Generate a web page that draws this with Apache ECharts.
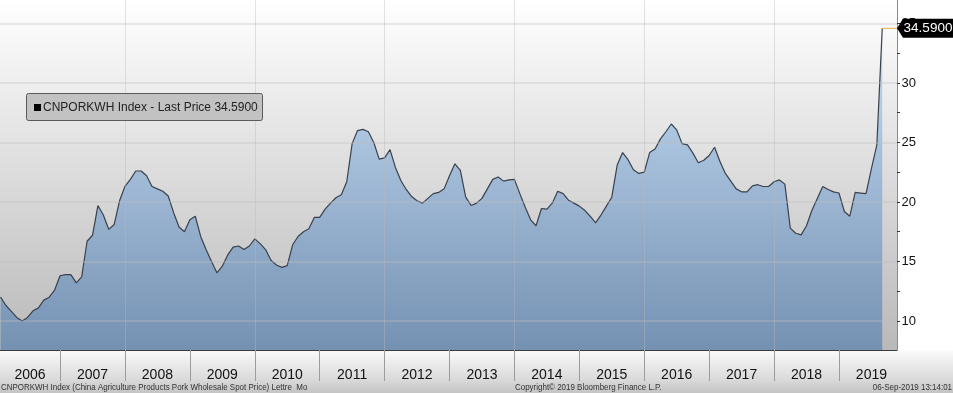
<!DOCTYPE html>
<html><head><meta charset="utf-8">
<script src="https://cdn.jsdelivr.net/npm/echarts@6/dist/echarts.min.js"></script>
<style>html,body{margin:0;padding:0;background:#fff}#c{width:953px;height:393px}</style>
</head><body><div id="c"></div>
<script>
// Monthly (month-end) CNPORKWH prices, Jan 2006 .. Aug 2019
const startYear = 2006;
const p2006 = [12.0, 11.3, 10.8, 10.3, 10.0, 10.3, 10.85, 11.1, 11.75, 12.0, 12.6, 13.8];
const p2007 = [13.9, 13.9, 13.2, 13.7, 16.7, 17.2, 19.7, 18.9, 17.7, 18.1, 20.1, 21.3];
const p2008 = [21.9, 22.6, 22.6, 22.2, 21.3, 21.1, 20.9, 20.5, 19.1, 17.9, 17.5, 18.5];
const p2009 = [18.8, 17.1, 16.0, 15.0, 14.05, 14.6, 15.55, 16.2, 16.3, 16.0, 16.3, 16.9];
const p2010 = [16.5, 16.0, 15.1, 14.7, 14.5, 14.65, 16.4, 17.1, 17.5, 17.75, 18.7, 18.7];
const p2011 = [19.4, 19.9, 20.35, 20.6, 21.7, 24.9, 26.0, 26.1, 25.9, 25.0, 23.6, 23.7];
const p2012 = [24.4, 22.9, 21.8, 21.05, 20.45, 20.1, 19.9, 20.3, 20.7, 20.8, 21.1, 22.2];
const p2013 = [23.2, 22.65, 20.4, 19.7, 19.9, 20.3, 21.1, 21.9, 22.1, 21.75, 21.85, 21.9];
const p2014 = [20.7, 19.55, 18.5, 18.0, 19.45, 19.4, 19.9, 20.9, 20.7, 20.15, 19.9, 19.65];
const p2015 = [19.3, 18.8, 18.25, 18.9, 19.65, 20.4, 23.1, 24.15, 23.55, 22.7, 22.4, 22.5];
const p2016 = [24.15, 24.45, 25.3, 25.9, 26.55, 26.05, 24.9, 24.8, 24.1, 23.3, 23.5, 23.9];
const p2017 = [24.6, 23.4, 22.4, 21.75, 21.1, 20.85, 20.85, 21.35, 21.45, 21.3, 21.3, 21.7];
const p2018 = [21.85, 21.5, 17.8, 17.37, 17.23, 18.0, 19.3, 20.3, 21.3, 21.05, 20.85, 20.75];
const p2019 = [19.2, 18.8, 20.8, 20.75, 20.7, 22.8, 24.8, 34.59];
const lastPrice = 34.59;

const yearLabels = [2006, 2007, 2008, 2009, 2010, 2011, 2012, 2013, 2014, 2015, 2016, 2017, 2018, 2019];
const yearBoundaries = [2007, 2008, 2009, 2010, 2011, 2012, 2013, 2014, 2015, 2016, 2017, 2018, 2019];
const verticalGridYears = [2008, 2010, 2012, 2014, 2016, 2018];
const yLabelValues = [10, 15, 20, 25, 30, 35];
const yTickValues = [10, 12.5, 15, 17.5, 20, 22.5, 25, 27.5, 30, 32.5, 35];

const xMin = 2006.075, xMax = 2019.894, yMin = 7.56, yMax = 36.97;

const prices = [].concat(p2006, p2007, p2008, p2009, p2010, p2011, p2012, p2013, p2014, p2015, p2016, p2017, p2018, p2019);
const points = prices.map((v, i) => [startYear + (i + 1) / 12, v]);
const lastX = points[points.length - 1][0];

const FONT = '"Liberation Sans", Arial, sans-serif';
const chart = echarts.init(document.getElementById('c'), null, {renderer: 'canvas'});

const vMarks = verticalGridYears.map(y => ({xAxis: y}));
const hMarks = yLabelValues.map(v => ({yAxis: v}));

// label positions: centre of each year segment (first clipped to visible part)
const labelPos = yearLabels.map((y, i) => i === 0 ? (xMin + 2007) / 2 : y + 0.5);

chart.setOption({
  animation: false,
  grid: {left: 0, right: 56, top: 0, bottom: 43, containLabel: false},
  graphic: [
    {type: 'rect', z: -10, silent: true, shape: {x: 0, y: 0, width: 897, height: 350},
      style: {fill: new echarts.graphic.LinearGradient(0, 0, 0, 1, [
        {offset: 0, color: '#ffffff'}, {offset: 1, color: '#b9b9b9'}])}},
    {type: 'rect', z: -10, silent: true, shape: {x: 0, y: 350, width: 953, height: 43},
      style: {fill: new echarts.graphic.LinearGradient(0, 0, 0, 1, [
        {offset: 0, color: '#fbfbfb'}, {offset: 0.7, color: '#d9d9d9'}, {offset: 1, color: '#c4c4c4'}])}},
    {type: 'rect', z: 100, shape: {x: 26.5, y: 93.5, width: 236, height: 27, r: 2},
      style: {fill: '#c2c2c2', stroke: '#5a5a5a', lineWidth: 1}},
    {type: 'rect', z: 101, shape: {x: 34, y: 104, width: 7, height: 7}, style: {fill: '#000'}},
    {type: 'text', z: 101, x: 43, y: 108,
      style: {text: 'CNPORKWH Index - Last Price 34.5900', fill: '#222', fontSize: 12, fontFamily: FONT, verticalAlign: 'middle'}},
    {type: 'text', z: 101, x: 1, y: 388, scaleX: 0.885,
      style: {text: 'CNPORKWH Index (China Agriculture Products Pork Wholesale Spot Price) Lettre  Mo', fill: '#333', fontSize: 9, fontFamily: FONT, verticalAlign: 'middle'}},
    {type: 'text', z: 101, x: 515, y: 388, scaleX: 0.885,
      style: {text: 'Copyright\u00a9 2019 Bloomberg Finance L.P.', fill: '#333', fontSize: 9, fontFamily: FONT, verticalAlign: 'middle'}},
    {type: 'text', z: 101, x: 952, y: 388, scaleX: 0.885,
      style: {text: '06-Sep-2019 13:14:01', fill: '#333', fontSize: 9, fontFamily: FONT, align: 'right', verticalAlign: 'middle'}}
  ],
  xAxis: {
    type: 'value', min: xMin, max: xMax,
    axisLine: {show: true, lineStyle: {color: '#3c3c3c', width: 1}},
    axisTick: {show: true, customValues: yearBoundaries, length: 31, inside: false, lineStyle: {color: '#9c9c9c', width: 1}},
    axisLabel: {show: true, customValues: labelPos, formatter: v => String(Math.floor(v)),
      margin: 18, color: '#111', fontSize: 14, fontFamily: FONT},
    splitLine: {show: false}
  },
  yAxis: {
    type: 'value', position: 'right', min: yMin, max: yMax,
    axisLine: {show: true, lineStyle: {color: '#8a8a8a'}},
    axisTick: {show: true, customValues: yTickValues, length: 3, lineStyle: {color: '#333'}},
    axisLabel: {show: true, customValues: yLabelValues, margin: 4.5, color: '#111', fontSize: 13, fontFamily: FONT},
    splitLine: {show: false}
  },
  series: [
    {
      name: 'CNPORKWH Index - Last Price 34.5900', type: 'line', data: points, symbol: 'none',
      lineStyle: {color: '#3a414b', width: 1.2},
      areaStyle: {color: new echarts.graphic.LinearGradient(0, 0, 0, 350, [
        {offset: 0, color: '#d6e4f3'}, {offset: 0.35, color: '#aec7e2'}, {offset: 1, color: '#7591b2'}], true), opacity: 1},
      markLine: {silent: true, symbol: 'none', label: {show: false}, animation: false,
        lineStyle: {color: 'rgba(185,185,185,0.4)', width: 1, type: 'solid'}, data: vMarks},
      z: 2
    },
    {
      type: 'line', data: [[lastX, lastPrice], [xMax, lastPrice]], symbol: 'none',
      lineStyle: {color: '#e3ad45', width: 1},
      markLine: {silent: true, symbol: 'none', label: {show: false}, animation: false,
        lineStyle: {color: 'rgba(190,190,190,0.45)', width: 1.5, type: 'solid'}, data: hMarks},
      markPoint: {
        silent: true, animation: false,
        data: [{coord: [xMax, lastPrice]}],
        symbol: 'path://M0,9.5L6,0H56V19H6Z', symbolSize: [56, 19], symbolOffset: ['50%', 0], symbolKeepAspect: false,
        itemStyle: {color: '#000'},
        label: {show: true, position: 'inside', offset: [3, 0], formatter: '34.5900', color: '#fff', fontSize: 13.5, fontFamily: FONT}
      },
      z: 5
    }
  ]
});
</script></body></html>
